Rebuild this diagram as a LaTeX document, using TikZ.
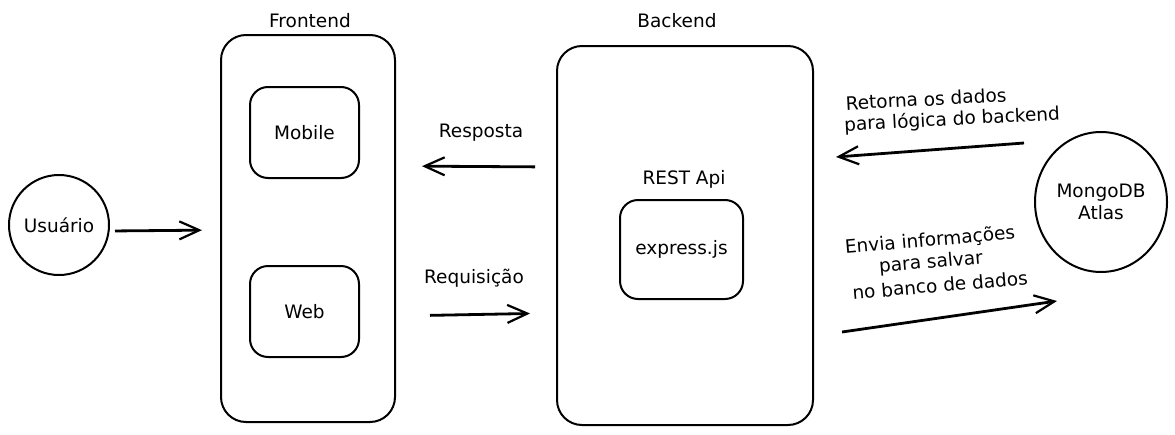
\documentclass[tikz,border=0pt]{standalone}
\usepackage{fontspec}
\setmainfont{DejaVu Sans}
\usetikzlibrary{arrows.meta,shapes.geometric}
\newcommand{\handfont}{\fontsize{18.5}{22}\selectfont}

\begin{document}
\begin{tikzpicture}[x=1pt, y=-1pt,
    box/.style={draw, line width=2pt, rounded corners=25pt},
    inbox/.style={draw, line width=2pt, rounded corners=18pt, font=\handfont},
    txt/.style={font=\handfont, inner sep=0pt},
    arr/.style={line width=2.8pt, -{Straight Barb[length=20pt, width=18pt, line width=2.2pt]}}]
        \useasboundingbox (0,0) rectangle (1175,434);

        % User
        \node[draw, circle, line width=2pt, minimum size=100pt, txt] (usuario) at (59,225) {Usuário};

        % Frontend side
        \node[box, minimum width=174pt, minimum height=387pt] (frontend) at (308,228.5) {};
        \node[txt] (frontend-title) at (310,21) {Frontend};
        \node[inbox, minimum width=109pt, minimum height=91pt] (mobile) at (304.5,132.5) {Mobile};
        \node[inbox, minimum width=109pt, minimum height=91pt] (web) at (304.5,311.5) {Web};

        % Backend side
        \node[box, minimum width=256pt, minimum height=379pt] (backend) at (685,235.5) {};
        \node[txt] (backend-title) at (677,21) {Backend};
        \node[txt] (rest) at (684,179) {REST Api};
        \node[inbox, minimum width=123pt, minimum height=99pt] (express) at (681.5,249.5) {express.js};

        % Database
        \node[draw, ellipse, line width=2pt, minimum width=132pt, minimum height=140pt, txt, align=center] (mongo) at (1101,202) {MongoDB\\Atlas};

        % Arrow labels
        \node[txt] (resposta) at (481,133) {Resposta};
        \node[txt] (requisicao) at (474,278) {Requisição};
        \node[txt, rotate=3] (retorna-1) at (926,99) {Retorna os dados};
        \node[txt, rotate=3] (retorna-2) at (952,120) {para lógica do backend};
        \node[txt, rotate=5] (envia-1) at (930,241) {Envia informações};
        \node[txt, rotate=5] (envia-2) at (931,263) {para salvar};
        \node[txt, rotate=5] (envia-3) at (940,285) {no banco de dados};

        % Connect nodes
        \draw[arr, shorten <=5pt, shorten >=18pt] ([yshift=-6pt]usuario.east) -- ([yshift=-1.5pt]frontend.west);
        \draw[arr, shorten <=21pt, shorten >=26pt] ([yshift=68.5pt]backend.west) -- ([yshift=62.5pt]frontend.east);
        \draw[arr, shorten <=34pt, shorten >=26pt] ([yshift=-87.5pt]frontend.east) -- ([yshift=-77.5pt]backend.west);
        \draw[arr] ([shift={(-10pt,59pt)}]mongo.west) -- ([shift={(22pt,78.5pt)}]backend.east);
        \draw[arr] ([shift={(28pt,-96.5pt)}]backend.east) -- ([shift={(-44pt,-28pt)}]mongo.south);
    \end{tikzpicture}
\end{document}
